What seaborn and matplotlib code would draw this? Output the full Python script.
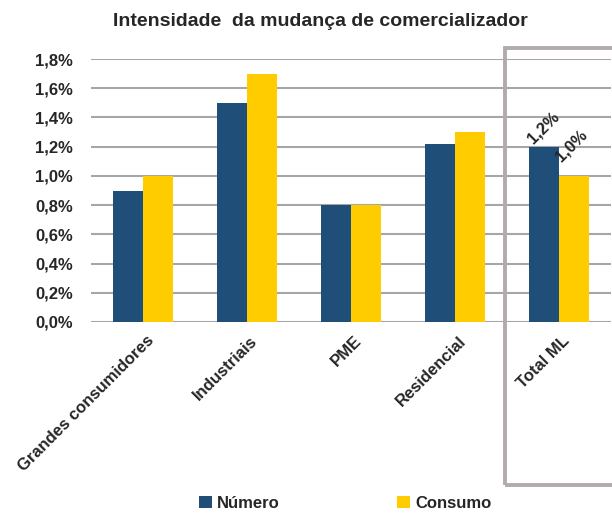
import matplotlib
matplotlib.use('Agg')
import matplotlib.pyplot as plt
import matplotlib.patches as mpatches
import seaborn as sns
import pandas as pd

categorias = ['Grandes consumidores', 'Industriais', 'PME', 'Residencial', 'Total ML']
numero = [0.9, 1.5, 0.8, 1.22, 1.2]
consumo = [1.0, 1.7, 0.8, 1.3, 1.0]
yticks = [0, 0.2, 0.4, 0.6, 0.8, 1.0, 1.2, 1.4, 1.6, 1.8]

AZUL = '#1f4e79'
AMARELO = '#ffcc00'

df = pd.DataFrame({
    'categoria': categorias * 2,
    'valor': numero + consumo,
    'serie': ['Número'] * len(numero) + ['Consumo'] * len(consumo),
})

sns.set_style('white')
plt.rcParams['font.family'] = ['Liberation Sans Narrow', 'Liberation Sans', 'DejaVu Sans']
plt.rcParams['font.weight'] = 'bold'

fig = plt.figure(figsize=(6.12, 5.13), dpi=100)
ax = fig.add_axes([91/612, 1 - 322/513, 520/612, (322 - 59)/513])

sns.barplot(data=df, x='categoria', y='valor', hue='serie',
            palette=[AZUL, AMARELO], width=0.58, saturation=1, linewidth=0, ax=ax)

ax.set_ylim(0, 1.8)
ax.set_xlim(-0.5, 4.5)
ax.set_yticks(yticks)
ax.set_yticklabels([f'{v:.1f}%'.replace('.', ',') for v in yticks], fontsize=12, fontweight='bold')
ax.yaxis.grid(True, color='#a6a6a6', linewidth=1.5)
ax.set_axisbelow(True)
for s in ax.spines.values():
    s.set_visible(False)
ax.tick_params(axis='y', length=0, pad=13)
ax.tick_params(axis='x', length=0, pad=8)
ax.set_xlabel('')
ax.set_ylabel('')
ax.set_xticks(range(len(categorias)))
ax.set_xticklabels(categorias, rotation=45, ha='right', rotation_mode='anchor',
                   fontsize=12, fontweight='bold')
for lbl in ax.get_xticklabels():
    lbl.set_transform(lbl.get_transform() + matplotlib.transforms.ScaledTranslation(0.03, 0, fig.dpi_scale_trans))

# rotulos so no Total ML
b_num = ax.containers[0][-1]
b_con = ax.containers[1][-1]
ax.annotate('1,2%', (b_num.get_x(), b_num.get_height()), xytext=(5, 0), textcoords='offset points',
            rotation=45, rotation_mode='anchor', ha='left', va='bottom', fontsize=12, fontweight='bold')
ax.annotate('1,0%', (b_con.get_x(), 1.1), xytext=(3, -2), textcoords='offset points',
            rotation=45, rotation_mode='anchor', ha='left', va='bottom', fontsize=12, fontweight='bold')

fig.text(0.523, 1 - 22/513, 'Intensidade  da mudança de comercializador', ha='center', va='center',
         fontsize=14, fontweight='bold')

sns.move_legend(ax, 'lower center', bbox_to_anchor=(0.564, -0.012), bbox_transform=fig.transFigure,
                ncol=2, frameon=False, title=None, fontsize=12, columnspacing=7,
                handlelength=0.8, handleheight=0.8, handletextpad=0.3, borderpad=0.0)

box = mpatches.Rectangle((505/612, 1 - 485/513), 0.3, (485 - 48)/513, transform=fig.transFigure,
                         fill=False, edgecolor='#b3abab', linewidth=2.8, clip_on=False)
fig.patches.append(box)

fig.savefig('out.png', dpi=100)
